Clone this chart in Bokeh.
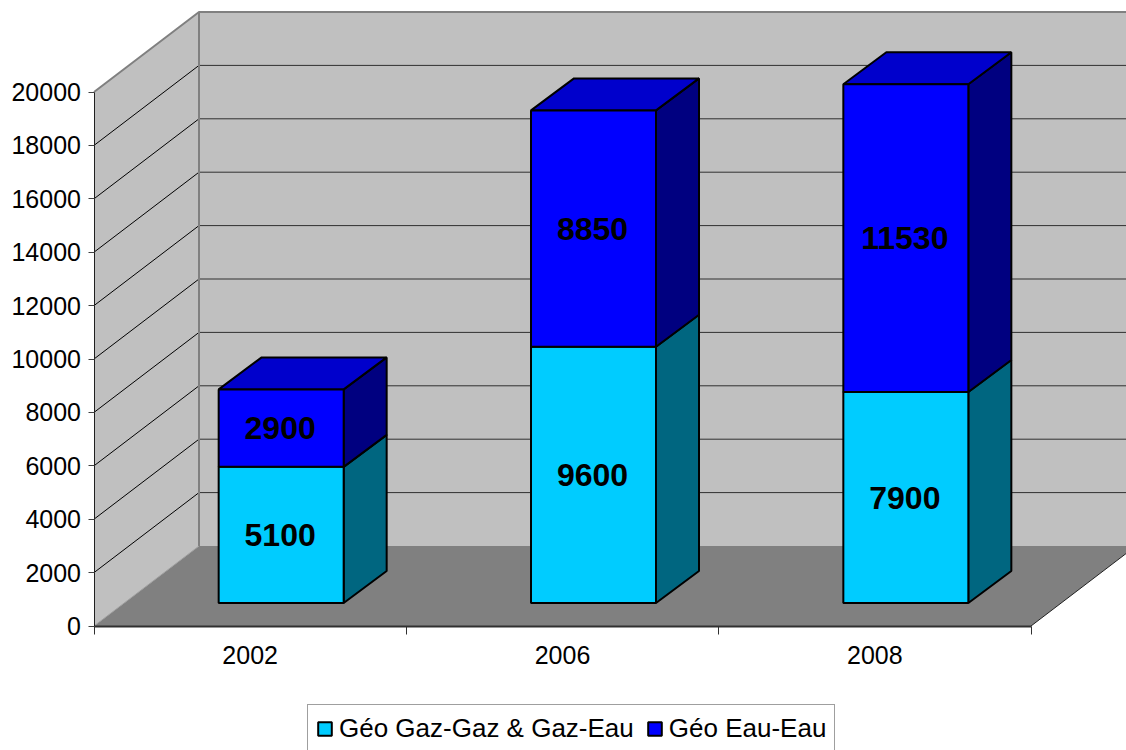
from bokeh.plotting import figure
from bokeh.models import FixedTicker, Legend, LegendItem, Range1d
from bokeh.core.properties import value
from bokeh.embed import file_html
from bokeh.resources import INLINE

categories = ["2002", "2006", "2008"]
gaz_values = [5100, 9600, 7900]
eau_values = [2900, 8850, 11530]
y_ticks = [0, 2000, 4000, 6000, 8000, 10000, 12000, 14000, 16000, 18000, 20000]
series_names = ["Géo Gaz-Gaz & Gaz-Eau", "Géo Eau-Eau"]

PX_X = 937 / 3          # px per category
PX_Y = 534 / 20000      # px per value unit
W, H = 1126, 750
X0, Y0 = 93.5, 625.5  # canvas position of the data origin

wall_dx, wall_dy = 105 / PX_X, 80 / PX_Y
off_dx, off_dy = 31 / PX_X, 23 / PX_Y
bar_dx, bar_dy = 43 / PX_X, 32 / PX_Y
bar_w = 125 / PX_X
font = "Liberation Sans"

p = figure(width=W, height=H, output_backend="svg", toolbar_location=None,
           x_range=Range1d(-X0 / PX_X, (W - X0) / PX_X),
           y_range=Range1d(-(H - Y0) / PX_Y, Y0 / PX_Y),
           min_border=0, min_border_left=0, min_border_right=0, min_border_top=0, min_border_bottom=0,
           outline_line_color=None, background_fill_color="white", border_fill_color="white")
p.grid.visible = False

x_max = len(categories)
y_max = y_ticks[-1]

# walls and floor
p.patch([wall_dx, x_max + wall_dx, x_max + wall_dx, wall_dx],
        [wall_dy, wall_dy, y_max + wall_dy, y_max + wall_dy],
        fill_color="#C0C0C0", line_color=None)
p.patch([0, wall_dx, wall_dx, 0], [0, wall_dy, y_max + wall_dy, y_max],
        fill_color="#C0C0C0", line_color=None)
p.patch([0, x_max, x_max + wall_dx, wall_dx], [0, 0, wall_dy, wall_dy],
        fill_color="#808080", line_color=None)
p.line([x_max, x_max + wall_dx], [0, wall_dy], line_color="#202020", line_width=1)

# grid lines
inner = y_ticks[1:-1]
p.multi_line([[0, wall_dx] for _ in inner],
             [[t, t + wall_dy] for t in inner],
             line_color="#000000", line_width=1)
p.multi_line([[wall_dx, x_max + wall_dx] for _ in inner],
             [[t + wall_dy, t + wall_dy] for t in inner],
             line_color="#303030", line_width=1)
p.line([0, wall_dx, x_max + wall_dx], [y_max, y_max + wall_dy, y_max + wall_dy],
       line_color="#808080", line_width=2)
p.line([wall_dx, wall_dx], [wall_dy, y_max + wall_dy], line_color="#808080", line_width=2)
p.line([0, wall_dx], [0, wall_dy], line_color="#A0A0A0", line_width=1)

# bars
centers = [i + 0.5 + off_dx for i in range(len(categories))]
bot1 = [off_dy] * len(categories)
top1 = [b + v for b, v in zip(bot1, gaz_values)]
top2 = [b + v for b, v in zip(top1, eau_values)]


def sides(bottom, top):
    xs, ys = [], []
    for c, b, t in zip(centers, bottom, top):
        r = c + bar_w / 2
        xs.append([r, r + bar_dx, r + bar_dx, r])
        ys.append([b, b + bar_dy, t + bar_dy, t])
    return xs, ys


def tops(level):
    xs, ys = [], []
    for c, t in zip(centers, level):
        l, r = c - bar_w / 2, c + bar_w / 2
        xs.append([l, r, r + bar_dx, l + bar_dx])
        ys.append([t, t, t + bar_dy, t + bar_dy])
    return xs, ys


sx, sy = sides(bot1, top1)
p.patches(sx, sy, fill_color="#006680", line_color="black", line_width=2)
sx, sy = sides(top1, top2)
p.patches(sx, sy, fill_color="#000080", line_color="black", line_width=2)
tx, ty = tops(top2)
p.patches(tx, ty, fill_color="#0000CC", line_color="black", line_width=2)
r1 = p.vbar(x=centers, bottom=bot1, top=top1, width=bar_w, fill_color="#00CCFF",
            line_color="black", line_width=2)
r2 = p.vbar(x=centers, bottom=top1, top=top2, width=bar_w, fill_color="#0000FF",
            line_color="black", line_width=2)

# value labels
lab_x = centers * 2
lab_y = [(b + t) / 2 for b, t in zip(bot1, top1)] + [(b + t) / 2 for b, t in zip(top1, top2)]
lab_t = [str(v) for v in gaz_values + eau_values]
p.text(lab_x, lab_y, text=lab_t, text_font=value(font), text_font_style="bold",
       text_font_size="32px", text_color="black", text_align="center", text_baseline="middle",
       x_offset=-1)

# axes
ya = p.yaxis[0]
ya.fixed_location = 0
ya.bounds = (0, y_max)
ya.ticker = FixedTicker(ticks=y_ticks)
ya.major_tick_in = 0
ya.major_tick_out = 6
ya.minor_tick_in = 0
ya.minor_tick_out = 0
ya.major_tick_line_color = "#404040"
ya.axis_line_color = "#202020"
ya.axis_line_width = 1
ya.major_label_text_font = font
ya.major_label_text_font_size = "25px"
ya.major_label_text_color = "black"
ya.major_label_standoff = 7

xa = p.xaxis[0]
xa.fixed_location = 0
xa.bounds = (0, x_max)
xa.ticker = FixedTicker(ticks=[i + 0.5 for i in range(x_max)], minor_ticks=list(range(x_max + 1)))
xa.major_label_overrides = {i + 0.5: c for i, c in enumerate(categories)}
xa.major_tick_in = 0
xa.major_tick_out = 0
xa.minor_tick_in = 0
xa.minor_tick_out = 8
xa.minor_tick_line_color = "#303030"
xa.axis_line_color = "#303030"
xa.axis_line_width = 2
xa.major_label_text_font = font
xa.major_label_text_font_size = "25px"
xa.major_label_text_color = "black"
xa.major_label_standoff = 12

legend = Legend(items=[LegendItem(label=series_names[0], renderers=[r1]),
                       LegendItem(label=series_names[1], renderers=[r2])],
                orientation="horizontal", location=(307, -3),
                label_text_font=font, label_text_font_size="26px", label_text_color="black",
                glyph_width=17, glyph_height=17, label_standoff=6, spacing=12,
                padding=8, margin=0,
                border_line_color="#404040", border_line_width=1,
                background_fill_color="white", background_fill_alpha=1)
p.add_layout(legend, "center")

open("out.html", "w").write(file_html(p, INLINE))
